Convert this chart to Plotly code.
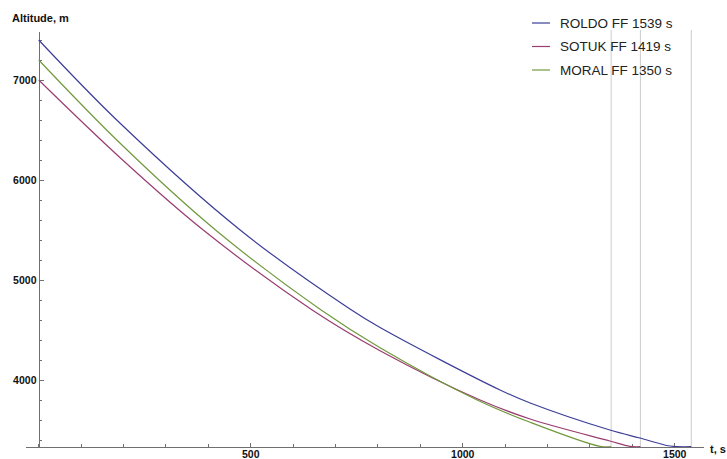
import plotly.graph_objects as go

# Descent profiles: time since start (s) vs altitude (m)
roldo_t = [0, 192, 475, 734, 805, 1088, 1159, 1347, 1418, 1489, 1539]
roldo_alt = [7400, 6567, 5500, 4710, 4525, 3900, 3770, 3500, 3420, 3340, 3333]

sotuk_t = [0, 192, 388, 645, 805, 1041, 1159, 1347, 1394, 1419]
sotuk_alt = [7000, 6223, 5500, 4700, 4293, 3800, 3610, 3390, 3336, 3333]

moral_t = [0, 192, 417, 666, 805, 1034, 1159, 1324, 1350]
moral_alt = [7200, 6367, 5500, 4700, 4323, 3800, 3577, 3336, 3333]

series_names = ["ROLDO FF 1539 s", "SOTUK FF 1419 s", "MORAL FF 1350 s"]
series_end_times = [1539, 1419, 1350]
series_colors = ["#3d3d99", "#993d71", "#71993d"]

y_ticks = [4000, 5000, 6000, 7000]
x_ticks = [500, 1000, 1500]

X_RANGE = [-30, 1569]
Y_RANGE = [3330, 7480]

ML, MR, MT, MB = 26, 23, 32, 12
W, H = 727, 459
PW, PH = W - ML - MR, H - MT - MB


def px_to_paper(px, py):
    return (px - ML) / PW, (H - MB - py) / PH


fig = go.Figure()

for t, alt, name, color in zip(
    [roldo_t, sotuk_t, moral_t],
    [roldo_alt, sotuk_alt, moral_alt],
    series_names,
    series_colors,
):
    fig.add_trace(
        go.Scatter(
            x=t,
            y=alt,
            mode="lines",
            name=name,
            line=dict(color=color, width=1.2, shape="spline", smoothing=1.0),
            showlegend=False,
        )
    )

# Final-fix time markers
top_paper = px_to_paper(0, 30)[1]
for tend in series_end_times:
    fig.add_shape(
        type="line",
        xref="x",
        yref="paper",
        x0=tend,
        x1=tend,
        y0=0,
        y1=top_paper,
        line=dict(color="#cccccc", width=1),
        layer="below",
    )

# Legend drawn by hand
legend_rows = [23, 46.5, 70]
for name, color, py in zip(series_names, series_colors, legend_rows):
    x0, yy = px_to_paper(532, py)
    x1, _ = px_to_paper(550, py)
    fig.add_shape(
        type="line",
        xref="paper",
        yref="paper",
        x0=x0,
        x1=x1,
        y0=yy,
        y1=yy,
        line=dict(color=color, width=1.2),
    )
    tx, _ = px_to_paper(558, py)
    fig.add_annotation(
        xref="paper",
        yref="paper",
        x=tx,
        y=yy,
        text=name,
        showarrow=False,
        xanchor="left",
        yanchor="middle",
        font=dict(family="Liberation Sans", size=13.5, color="#222222"),
    )

# Axis titles
ax_x, ax_y = px_to_paper(10, 18)
fig.add_annotation(
    xref="paper", yref="paper", x=ax_x, y=ax_y,
    text="<b>Altitude, m</b>", showarrow=False,
    xanchor="left", yanchor="middle",
    font=dict(family="Liberation Sans", size=11, color="#111111"),
)
tx_x, tx_y = px_to_paper(708, 449)
fig.add_annotation(
    xref="paper", yref="paper", x=tx_x, y=tx_y,
    text="<b>t, s</b>", showarrow=False,
    xanchor="left", yanchor="middle",
    font=dict(family="Liberation Sans", size=11, color="#111111"),
)

axis_color = "#707070"
tick_font = dict(family="Liberation Sans", size=10.5, color="#111111", weight="bold")

fig.update_layout(
    width=W,
    height=H,
    margin=dict(l=ML, r=MR, t=MT, b=MB, autoexpand=False),
    paper_bgcolor="white",
    plot_bgcolor="white",
    showlegend=False,
    xaxis=dict(
        range=X_RANGE,
        domain=[0, 1],
        automargin=False,
        showgrid=False,
        zeroline=False,
        showline=True,
        linecolor=axis_color,
        linewidth=1.3,
        ticks="inside",
        ticklen=4,
        tickcolor=axis_color,
        tickvals=x_ticks,
        tickfont=tick_font,
        ticklabelstandoff=-3,
        minor=dict(dtick=100, tick0=0, ticklen=2.5, tickcolor=axis_color, ticks="inside"),
        layer="below traces",
    ),
    yaxis=dict(
        range=Y_RANGE,
        anchor="free",
        position=(0 - X_RANGE[0]) / (X_RANGE[1] - X_RANGE[0]),
        automargin=False,
        showgrid=False,
        zeroline=False,
        showline=True,
        linecolor=axis_color,
        linewidth=1.3,
        ticks="inside",
        ticklen=4,
        tickcolor=axis_color,
        tickvals=y_ticks,
        tickfont=tick_font,
        minor=dict(dtick=200, tick0=0, ticklen=2.5, tickcolor=axis_color, ticks="inside"),
        layer="below traces",
    ),
)

fig.write_html("out.html")
